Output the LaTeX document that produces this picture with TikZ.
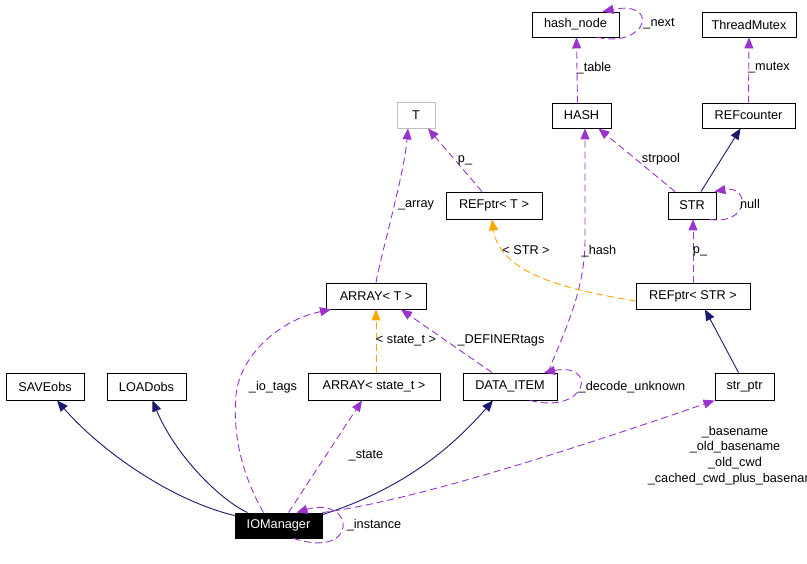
\documentclass[tikz,border=0pt]{standalone}
\usepackage{fontspec}
\setmainfont{Liberation Sans}
\usetikzlibrary{arrows.meta}
\definecolor{dpurple}{HTML}{9A32CD}
\definecolor{dnavy}{HTML}{191970}
\definecolor{dorange}{HTML}{FFA500}
\definecolor{dgray}{HTML}{BFBFBF}
\newcommand\dfont{\fontsize{12.7}{15.8}\selectfont}
\begin{document}
\begin{tikzpicture}[x=1pt,y=-1pt,
  box/.style={draw=black,line width=0.9pt,fill=white,inner sep=0pt,font=\dfont,minimum height=26pt},
  tip/.style={-{Triangle[length=11pt,width=9pt]}},
  dep/.style={tip,draw=dpurple,line width=0.9pt,dash pattern=on 7pt off 4pt},
  inh/.style={tip,draw=dnavy,line width=0.9pt},
  tmpl/.style={tip,draw=dorange,line width=0.9pt,dash pattern=on 7pt off 4pt},
  lbl/.style={font=\dfont,inner sep=0pt,text=black}]
\useasboundingbox (0,0) rectangle (807,564);
\clip (0,0) rectangle (807,564);
% nodes
\node[box,minimum width=87pt,minimum height=25pt] (hashnode) at (575.5,24.5) {hash\_node};
\node[box,minimum width=94pt,minimum height=25pt] (tmutex) at (749,24.5) {ThreadMutex};
\node[box,minimum width=59pt,minimum height=25pt] (hash) at (581.5,115.5) {HASH};
\node[box,minimum width=93pt,minimum height=25pt] (refcnt) at (748.5,115.5) {REFcounter};
\node[box,draw=dgray,minimum width=38pt] (T) at (416,115) {T};
\node[box,minimum width=96pt,minimum height=27pt] (refptrT) at (494,205.5) {REFptr< T >};
\node[box,minimum width=48pt,minimum height=27pt] (str) at (692,205.5) {STR};
\node[box,minimum width=114pt] (refptrSTR) at (693,296) {REFptr< STR >};
\node[box,minimum width=100pt] (arrayT) at (376,296) {ARRAY< T >};
\node[box,minimum width=132pt,minimum height=27pt] (arrayst) at (374,386.5) {ARRAY< state\_t >};
\node[box,minimum width=94pt,minimum height=27pt] (ditem) at (510,386.5) {DATA\_ITEM};
\node[box,minimum width=78pt,minimum height=27pt] (saveobs) at (45,386.5) {SAVEobs};
\node[box,minimum width=79pt,minimum height=27pt] (loadobs) at (146.5,386.5) {LOADobs};
\node[box,minimum width=59pt,minimum height=27pt] (strptr) at (744.5,386.5) {str\_ptr};
\node[box,fill=black,text=white,minimum width=87pt,minimum height=25pt] (iom) at (278.5,525.5) {IOManager};
% edges
\draw[dep] ([xshift=22pt]hashnode.south) .. controls (648,48) and (660,0) .. ([xshift=27pt]hashnode.north);
\node[lbl] (lnext) at (659,24) {\_next};
\draw[dep] ([xshift=-4pt]hash.north) -- ([xshift=1pt]hashnode.south);
\node[lbl] (ltable) at (594,68) {\_table};
\draw[dep] (refcnt.north) -- (tmutex.south);
\node[lbl] (lmutex) at (769,68) {\_mutex};
\draw[inh] ([xshift=9pt]str.north) -- ([xshift=-8pt]refcnt.south);
\draw[dep] ([xshift=18pt]str.south) .. controls (750,225) and (750,185) .. ([xshift=-2pt]str.north east);
\node[lbl] (lnull) at (750,204) {null};
\draw[dep] ([xshift=-17pt]str.north) -- ([xshift=17pt]hash.south);
\node[lbl] (lstrpool) at (661,159) {strpool};
\draw[dep] ([xshift=38pt]ditem.north) .. controls (565,330) and (585,290) .. (585,240) -- ([xshift=3.5pt]hash.south);
\node[lbl] (lhash) at (599,251) {\_hash};
\draw[tmpl] ([yshift=-5pt]refptrSTR.west) .. controls (570,290) and (500,275) .. ([xshift=-2pt]refptrT.south);
\node[lbl] (lstr) at (526,250) {< STR >};
\draw[dep] (refptrSTR.north) -- ([xshift=1pt]str.south);
\node[lbl] (lpstr) at (700,251) {p\_};
\draw[dep] ([xshift=-12pt]refptrT.north) -- ([xshift=12pt]T.south);
\node[lbl] (lpT) at (465,160) {p\_};
\draw[dep] (arrayT.north) .. controls (382,250) and (404,175) .. ([xshift=-8pt]T.south);
\node[lbl] (larray) at (416,205) {\_array};
\draw[tmpl] ([xshift=2pt]arrayst.north) -- (arrayT.south);
\node[lbl] (lstate) at (406,341) {< state\_t >};
\draw[dep] ([xshift=-18pt]ditem.north) -- ([xshift=25pt]arrayT.south);
\node[lbl] (ldef) at (501,340) {\_DEFINERtags};
\draw[dep] ([xshift=20pt]ditem.south) .. controls (588,415) and (598,362) .. ([xshift=34pt]ditem.north);
\node[lbl] (ldecode) at (632,387) {\_decode\_unknown};
\draw[inh] ([xshift=-6pt]strptr.north) -- ([xshift=12pt]refptrSTR.south);
\draw[inh] ([yshift=-3pt]iom.north west) .. controls (170,500) and (100,450) .. ([xshift=12pt]saveobs.south);
\draw[inh] ([xshift=13pt]iom.north west) .. controls (220,500) and (175,455) .. ([xshift=6pt]loadobs.south);
\draw[dep] ([xshift=-15pt]iom.north) .. controls (245,480) and (232,440) .. (236,395) .. controls (240,355) and (280,320) .. ([xshift=-45pt]arrayT.south);
\node[lbl] (liotags) at (273,387) {\_io\_tags};
\draw[dep] ([xshift=10pt]iom.north) -- ([xshift=-12pt]arrayst.south);
\node[lbl] (lst) at (366,456) {\_state};
\draw[inh] ([yshift=-2pt]iom.north east) .. controls (400,490) and (450,450) .. ([xshift=-17pt]ditem.south);
\draw[dep] (iom.north east) .. controls (420,500) and (600,440) .. (strptr.south west);
\node[lbl,align=center] (lstrptr) at (735,455.5) {\_basename\\\_old\_basename\\\_old\_cwd\\\_cached\_cwd\_plus\_basename};
\draw[dep] ([xshift=15pt]iom.south) .. controls (360,560) and (355,495) .. ([xshift=18pt]iom.north);
\node[lbl] (linst) at (374,525) {\_instance};
\end{tikzpicture}
\end{document}
